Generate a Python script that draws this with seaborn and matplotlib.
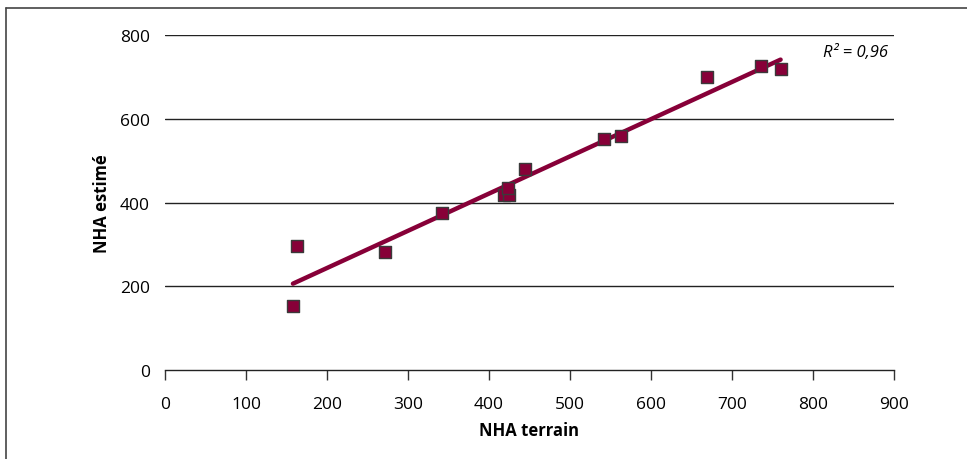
import pandas as pd
import matplotlib.pyplot as plt
import seaborn as sns
from matplotlib.lines import Line2D

# données
nha_terrain = [158, 163, 272, 342, 419, 425, 423, 444, 542, 563, 669, 736, 760]
nha_estime = [152, 297, 281, 376, 418, 417, 434, 480, 552, 560, 700, 726, 720]
r2_texte = "R² = 0,96"

df = pd.DataFrame({'NHA terrain': nha_terrain, 'NHA estimé': nha_estime})

sns.set_theme(style="white")
plt.rcParams['font.family'] = ['Open Sans', 'DejaVu Sans']
plt.rcParams['text.color'] = 'black'
plt.rcParams['axes.labelcolor'] = 'black'
plt.rcParams['xtick.labelcolor'] = 'black'
plt.rcParams['ytick.labelcolor'] = 'black'

couleur = '#870038'

fig = plt.figure(figsize=(9.67, 4.6), dpi=100)
ax = fig.add_axes([0.1706, 0.1935, 0.7539, 0.7282])

sns.regplot(data=df, x='NHA terrain', y='NHA estimé', ax=ax, ci=None, marker='s',
            scatter_kws={'s': 78, 'color': couleur, 'edgecolor': '#3a3a3a',
                         'linewidths': 1, 'alpha': 1, 'zorder': 3},
            line_kws={'color': couleur, 'linewidth': 3.2, 'solid_capstyle': 'round', 'zorder': 2})

ax.set_xlim(0, 900)
ax.set_ylim(0, 800)
ax.set_xticks(range(0, 901, 100))
ax.set_yticks(range(0, 801, 200))

for y in [200, 400, 600, 800]:
    ax.axhline(y, color='#222222', linewidth=1, zorder=1)

for s in ['top', 'right', 'left']:
    ax.spines[s].set_visible(False)
ax.spines['bottom'].set_color('#222222')
ax.spines['bottom'].set_linewidth(1)

ax.tick_params(axis='x', direction='out', length=7, width=1, color='#333333',
               labelsize=12.5, pad=12, bottom=True)
ax.tick_params(axis='y', length=0, labelsize=12.5, pad=11)

ax.set_xlabel('NHA terrain', fontsize=12, fontweight='bold', labelpad=6)
ax.set_ylabel('NHA estimé', fontsize=12, fontweight='bold', labelpad=6)

ax.text(0.992, 0.95, r2_texte, transform=ax.transAxes, ha='right', va='center',
        fontsize=12, fontstyle='italic')

# cadre du bloc (gauche et haut)
fig.add_artist(Line2D([6 / 967, 6 / 967], [0, 1 - 9 / 460], transform=fig.transFigure,
                      color='#444444', linewidth=1.2))
fig.add_artist(Line2D([6 / 967, 1], [1 - 9 / 460, 1 - 9 / 460], transform=fig.transFigure,
                      color='#444444', linewidth=1.2))

fig.savefig('out.png', dpi=100)
